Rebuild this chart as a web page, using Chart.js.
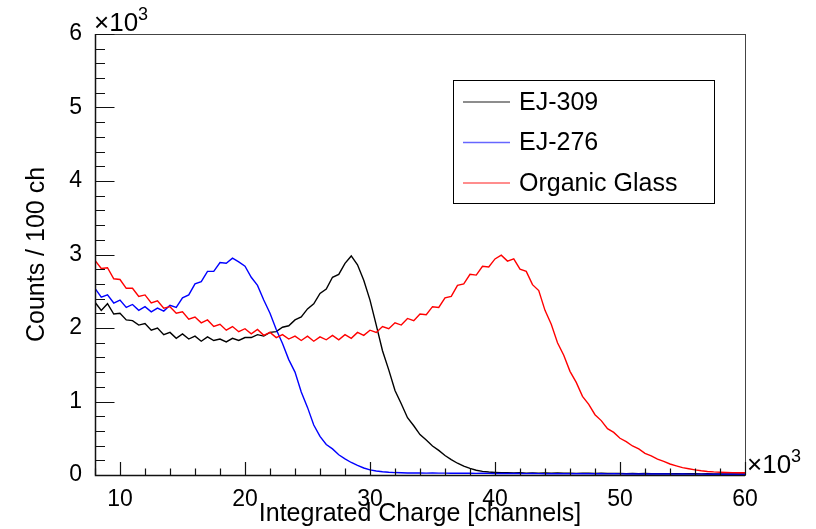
<!DOCTYPE html>
<html>
<head>
<meta charset="utf-8">
<script src="https://cdn.jsdelivr.net/npm/chart.js@4.4.1/dist/chart.umd.min.js"></script>
<style>
  html, body { margin: 0; padding: 0; background: #fff; }
  #wrap { width: 816px; height: 529px; }
</style>
</head>
<body>
<div id="wrap"><canvas id="spectra" width="816" height="529"></canvas></div>
<script>
// bin centres, every 500 channels from 8000 to 60000
const channels = [];
for (let c = 8000; c <= 60000; c += 500) channels.push(c);

const seriesNames = ['EJ-309', 'EJ-276', 'Organic Glass'];
const seriesColors = ['#000000', '#0000ff', '#ff0000'];

// counts / 100 ch
const ej309 = [
  2350, 2240, 2330, 2190, 2200, 2110, 2100, 2040, 2060,
  1970, 2000, 1910, 1940, 1860, 1920, 1850, 1890,
  1820, 1880, 1830, 1850, 1810, 1860, 1830, 1870,
  1870, 1910, 1890, 1940, 1950, 2010, 2030, 2110,
  2150, 2260, 2330, 2470, 2530, 2690, 2730, 2880,
  2980, 2860, 2650, 2380, 2040, 1690, 1430, 1150,
  970, 780, 670, 550, 475, 395, 335, 265,
  210, 160, 120, 90, 65, 50, 40, 35,
  30, 32, 28, 30, 26, 29, 25, 27,
  24, 27, 23, 25, 22, 24, 23, 21,
  23, 20, 22, 20, 19, 21, 18, 20,
  18, 17, 19, 17, 16, 18, 16, 17,
  15, 16, 15, 14, 15, 14, 13, 14
];
const ej276 = [
  2540, 2420, 2450, 2340, 2380, 2280, 2320, 2240, 2290,
  2220, 2270, 2230, 2310, 2280, 2410, 2450, 2600,
  2630, 2770, 2770, 2890, 2880, 2950, 2900, 2840,
  2690, 2580, 2380, 2200, 1980, 1790, 1570, 1400,
  1130, 920, 680, 525, 415, 355, 275, 220,
  170, 130, 95, 70, 55, 45, 38, 33,
  30, 28, 29, 27, 26, 27, 25, 26,
  24, 25, 23, 24, 22, 23, 22, 21,
  22, 20, 21, 20, 19, 20, 19, 18,
  19, 18, 17, 18, 17, 16, 17, 16,
  16, 15, 16, 15, 14, 15, 14, 14,
  13, 14, 13, 13, 12, 13, 12, 12,
  12, 11, 12, 11, 11, 10, 11, 10
];
const organicGlass = [
  2920, 2810, 2820, 2670, 2660, 2540, 2540, 2430, 2450,
  2340, 2370, 2270, 2290, 2200, 2220, 2120, 2150,
  2070, 2110, 2020, 2050, 1970, 2020, 1950, 1990,
  1920, 1980, 1900, 1940, 1870, 1910, 1850, 1890,
  1830, 1890, 1820, 1880, 1840, 1900, 1840, 1910,
  1860, 1940, 1900, 1970, 1940, 2020, 1990, 2070,
  2040, 2130, 2100, 2190, 2180, 2290, 2280, 2410,
  2430, 2580, 2600, 2730, 2720, 2840, 2830, 2940,
  2990, 2910, 2940, 2800, 2770, 2590, 2510, 2240,
  2050, 1800, 1630, 1410, 1260, 1070, 960, 820,
  740, 630, 580, 500, 455, 395, 355, 295,
  260, 215, 185, 150, 125, 100, 85, 70,
  58, 48, 42, 38, 35, 32, 30, 30
];

const xMajorTicks = [10000, 20000, 30000, 40000, 50000, 60000];
const xMinorTicks = [8000, 10000, 12000, 14000, 16000, 18000, 20000, 22000, 24000, 26000, 28000, 30000,
  32000, 34000, 36000, 38000, 40000, 42000, 44000, 46000, 48000, 50000, 52000, 54000, 56000, 58000, 60000];
const yMajorTicks = [0, 1000, 2000, 3000, 4000, 5000, 6000];
const yMinorStep = 200;

const FONT = '"Liberation Sans", Arial, Helvetica, sans-serif';

const toPoints = vals => channels.map((c, i) => ({ x: c, y: vals[i] }));

// ROOT style frame, inside ticks, x10^3 labels and legend box
const rootStyle = {
  id: 'rootStyle',
  afterDraw(chart) {
    const { ctx, chartArea: a } = chart;
    const xs = chart.scales.x, ys = chart.scales.y;
    ctx.save();

    // frame
    ctx.strokeStyle = '#444';
    ctx.lineWidth = 1;
    ctx.strokeRect(a.left + 0.5, a.top + 0.5, a.right - a.left, a.bottom - a.top);

    ctx.strokeStyle = '#111';
    ctx.lineWidth = 1.5;
    ctx.beginPath();
    ctx.moveTo(a.left + 0.5, a.top);
    ctx.lineTo(a.left + 0.5, a.bottom + 0.5);
    ctx.lineTo(a.right, a.bottom + 0.5);
    ctx.stroke();

    // x ticks (pointing up into the frame)
    ctx.lineWidth = 1.2;
    ctx.beginPath();
    xMinorTicks.forEach(v => {
      const px = Math.round(xs.getPixelForValue(v)) + 0.5;
      const len = xMajorTicks.includes(v) ? 13 : 6.5;
      ctx.moveTo(px, a.bottom);
      ctx.lineTo(px, a.bottom - len);
    });
    // y ticks (pointing right)
    for (let v = 0; v <= 6000; v += yMinorStep) {
      const py = Math.round(ys.getPixelForValue(v)) + 0.5;
      const len = yMajorTicks.includes(v) ? 19.5 : 10;
      ctx.moveTo(a.left, py);
      ctx.lineTo(a.left + len, py);
    }
    ctx.stroke();

    // exponent labels
    ctx.fillStyle = '#000';
    ctx.textBaseline = 'alphabetic';
    ctx.textAlign = 'left';
    const drawExp = (x, y) => {
      ctx.font = '26px ' + FONT;
      ctx.fillText('\u00d710', x, y);
      const w = ctx.measureText('\u00d710').width;
      ctx.font = '18px ' + FONT;
      ctx.fillText('3', x + w, y - 11);
    };
    drawExp(a.left - 1, a.top - 3);
    drawExp(a.right + 2, a.bottom - 2);

    // legend
    const box = { left: 453, top: 80, right: 714, bottom: 203 };
    ctx.fillStyle = '#fff';
    ctx.fillRect(box.left, box.top, box.right - box.left, box.bottom - box.top);
    ctx.strokeStyle = '#000';
    ctx.lineWidth = 1;
    ctx.strokeRect(box.left + 0.5, box.top + 0.5, box.right - box.left, box.bottom - box.top);
    ctx.font = '25px ' + FONT;
    ctx.textBaseline = 'middle';
    chart.data.datasets.forEach((ds, i) => {
      const yy = 102 + i * 40.5;
      ctx.strokeStyle = ds.borderColor;
      ctx.globalAlpha = 0.6;
      ctx.lineWidth = 1.5;
      ctx.beginPath();
      ctx.moveTo(463, yy);
      ctx.lineTo(510, yy);
      ctx.stroke();
      ctx.globalAlpha = 1;
      ctx.fillStyle = '#000';
      ctx.fillText(ds.label, 519, yy + 1);
    });

    ctx.restore();
  }
};

const allSeries = [ej309, ej276, organicGlass];
const datasets = allSeries.map((vals, i) => ({
  label: seriesNames[i],
  data: toPoints(vals),
  borderColor: seriesColors[i],
  backgroundColor: seriesColors[i],
  borderWidth: 1.4,
  pointRadius: 0,
  tension: 0,
  fill: false,
  order: 2 - i   // red drawn on top like the original
}));

new Chart(document.getElementById('spectra').getContext('2d'), {
  type: 'line',
  data: { datasets: datasets },
  options: {
    responsive: false,
    animation: false,
    layout: { padding: { top: 34, right: 71, left: 0, bottom: 0 } },
    plugins: { legend: { display: false }, tooltip: { enabled: false } },
    scales: {
      x: {
        type: 'linear',
        min: 8000,
        max: 60000,
        grid: { display: false },
        border: { display: false },
        afterBuildTicks: s => { s.ticks = xMajorTicks.map(v => ({ value: v })); },
        afterFit: s => { s.height = 54; },
        ticks: {
          padding: 3,
          maxRotation: 0,
          autoSkip: false,
          color: '#000',
          font: { family: FONT, size: 23 },
          callback: v => String(v / 1000)
        },
        title: {
          display: true,
          text: 'Integrated Charge [channels]',
          color: '#000',
          font: { family: FONT, size: 25 },
          padding: { top: 0, bottom: 0 }
        }
      },
      y: {
        type: 'linear',
        min: 0,
        max: 6000,
        grid: { display: false },
        border: { display: false },
        afterBuildTicks: s => { s.ticks = yMajorTicks.map(v => ({ value: v })); },
        afterFit: s => { s.width = 95; },
        ticks: {
          padding: 5,
          color: '#000',
          font: { family: FONT, size: 23 },
          callback: v => String(v / 1000)
        },
        title: {
          display: true,
          text: 'Counts / 100 ch',
          color: '#000',
          font: { family: FONT, size: 25 },
          padding: { top: 22, bottom: 0 }
        }
      }
    }
  },
  plugins: [rootStyle]
});
</script>
</body>
</html>
